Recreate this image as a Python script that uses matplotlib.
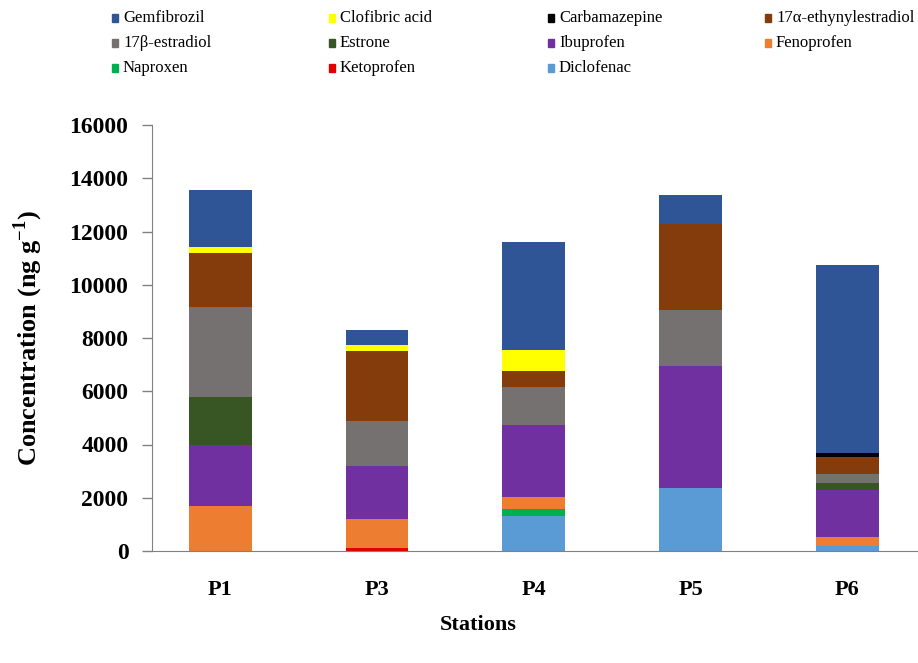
import matplotlib
matplotlib.use('Agg')
import matplotlib.pyplot as plt
from matplotlib.patches import Rectangle
import numpy as np

plt.rcParams['font.family'] = ['Liberation Serif', 'DejaVu Serif']
plt.rcParams['mathtext.fontset'] = 'custom'
plt.rcParams['mathtext.rm'] = 'Liberation Serif:bold'
plt.rcParams['mathtext.bf'] = 'Liberation Serif:bold'

stations = ['P1', 'P3', 'P4', 'P5', 'P6']

# stacked bottom -> top
compounds = ['Diclofenac', 'Ketoprofen', 'Naproxen', 'Fenoprofen', 'Ibuprofen', 'Estrone',
             '17\u03b2-estradiol', '17\u03b1-ethynylestradiol', 'Carbamazepine', 'Clofibric acid', 'Gemfibrozil']
colors = ['#5B9BD5', '#E00000', '#00B050', '#ED7D31', '#7030A0', '#375623',
          '#767171', '#843C0C', '#000000', '#FFFF00', '#2F5597']

diclofenac = [0, 0, 1330, 2370, 200]
ketoprofen = [0, 100, 0, 0, 0]
naproxen = [0, 0, 250, 0, 0]
fenoprofen = [1700, 1100, 450, 0, 330]
ibuprofen = [2300, 2000, 2710, 4590, 1750]
estrone = [1800, 0, 0, 0, 280]
estradiol = [3350, 1680, 1410, 2100, 350]
ethynylestradiol = [2060, 2625, 620, 3225, 625]
carbamazepine = [0, 0, 0, 0, 150]
clofibric = [190, 250, 780, 0, 0]
gemfibrozil = [2150, 560, 4040, 1090, 7050]

series = [diclofenac, ketoprofen, naproxen, fenoprofen, ibuprofen, estrone,
          estradiol, ethynylestradiol, carbamazepine, clofibric, gemfibrozil]

fig = plt.figure(figsize=(9.18, 6.63), dpi=100)
ax = fig.add_axes([152/918, 1-551/663, 1-152/918, (551-125)/663])

x = np.arange(len(stations))
bottom = np.zeros(len(stations))
for vals, col in zip(series, colors):
    ax.bar(x, vals, 0.4, bottom=bottom, color=col, linewidth=0)
    bottom += np.array(vals)

ax.set_xlim(-0.435, 4.45)
ax.set_ylim(0, 16000)
ax.set_yticks(range(0, 16001, 2000))
ax.set_xticks(x)
ax.set_xticklabels(stations, fontsize=16, fontweight='bold')
for t in ax.get_yticklabels():
    t.set_fontsize(17)
    t.set_fontweight('bold')
ax.tick_params(axis='x', length=0, pad=21)
ax.tick_params(axis='y', length=7, width=1, color='#808080', pad=10, direction='out')
for s in ['top', 'right']:
    ax.spines[s].set_visible(False)
ax.spines['left'].set_color('#808080')
ax.spines['bottom'].set_color('#808080')

fig.text(478/918, 1-625/663, 'Stations', fontsize=16, fontweight='bold', ha='center', va='center')
fig.text(28/918, 1-338/663, r'Concentration (ng g$^{\mathbf{-1}}$)', fontsize=19, fontweight='bold',
         rotation=90, ha='center', va='center')

# legend laid out in rows like the original
legend_rows = [['Gemfibrozil', 'Clofibric acid', 'Carbamazepine', '17\u03b1-ethynylestradiol'],
               ['17\u03b2-estradiol', 'Estrone', 'Ibuprofen', 'Fenoprofen'],
               ['Naproxen', 'Ketoprofen', 'Diclofenac']]
col_x = [115, 332, 551, 768]
row_y = [18, 43, 68]
for r, row in enumerate(legend_rows):
    for c, name in enumerate(row):
        col = colors[compounds.index(name)]
        fig.patches.append(Rectangle(((col_x[c]-3)/918, 1-(row_y[r]+4)/663), 6/918, 8/663,
                                     transform=fig.transFigure, color=col))
        fig.text((col_x[c]+8)/918, 1-row_y[r]/663, name, fontsize=12, ha='left', va='center')

fig.savefig('out.png', dpi=100)
